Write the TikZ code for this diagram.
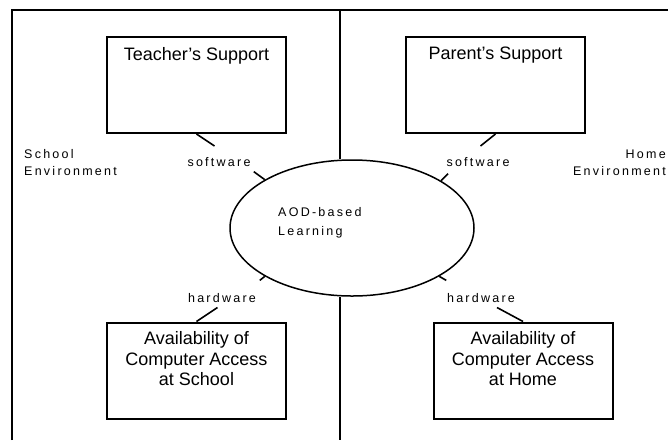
\documentclass[tikz,border=0pt]{standalone}
\usepackage{fontspec}
\setmainfont{Liberation Sans}
\newfontfamily\lblfont[LetterSpace=18]{Liberation Sans}
\usetikzlibrary{shapes.geometric}
\begin{document}
\begin{tikzpicture}[x=1pt,y=-1pt,
  frame/.style={line width=2.2pt},
  box/.style={draw,line width=2pt,rectangle,minimum width=179pt,minimum height=96pt,inner sep=0pt},
  boxtext/.style={font=\fontsize{18}{20.5}\selectfont,align=center,inner sep=0pt,anchor=north},
  lbl/.style={font=\lblfont\fontsize{12.5}{17}\selectfont,align=left,inner sep=0pt},
  conn/.style={line width=1.6pt}]
\useasboundingbox (0,0) rectangle (668,440);
% frame
\draw[frame] (12,440) -- (12,10) -- (680,10);
% ellipse
\node[draw,ellipse,line width=1.5pt,minimum width=244pt,minimum height=136pt,inner sep=0pt] (ell) at (352,228) {};
\node[lbl,anchor=west,font=\lblfont\fontsize{12.5}{19}\selectfont] (aod) at (278,223) {AOD-based\\Learning};
% divider
\coordinate (topmid) at (340,10);
\coordinate (botmid) at (340,440);
\draw[frame] (topmid) -- (ell.north -| topmid);
\draw[frame] (ell.south -| botmid) -- (botmid);
% boxes
\node[box] (ts) at (196.5,85) {};
\node[boxtext] (tst) at ([yshift=-11pt]ts.north) {Teacher’s Support};
\node[box] (ps) at (495.5,85) {};
\node[boxtext] (pst) at ([yshift=-11pt]ps.north) {Parent’s Support};
\node[box] (sb) at (196.5,370.5) {};
\node[boxtext] (sbt) at ([yshift=-10pt]sb.north) {Availability of\\Computer Access\\at School};
\node[box] (hb) at (523,370.5) {};
\node[boxtext] (hbt) at ([yshift=-10pt]hb.north) {Availability of\\Computer Access\\at Home};
% environment labels
\node[lbl,anchor=west] (se) at (24,163) {School\\Environment};
\node[lbl,align=right,anchor=east] (he) at (666,163) {Home\\Environment};
% connector labels
\node[lbl] (sw1) at (219,162) {software};
\node[lbl] (sw2) at (478,162) {software};
\node[lbl] (hw1) at (222,298) {hardware};
\node[lbl] (hw2) at (481,298) {hardware};
% connectors
\draw[conn] (ts.south) -- ++(18,12);
\draw[conn] (ell.151) -- ++(-11,-8);
\draw[conn] (ps.south) -- ++(-15,12);
\draw[conn] (ell.28) -- ++(7,-7);
\draw[conn] (sb.north) -- ++(21,-14);
\draw[conn] (ell.209) -- ++(-5,4);
\draw[conn] (hb.north) -- ++(-26,-14);
\draw[conn] (ell.331) -- ++(7,4);
\end{tikzpicture}
\end{document}
